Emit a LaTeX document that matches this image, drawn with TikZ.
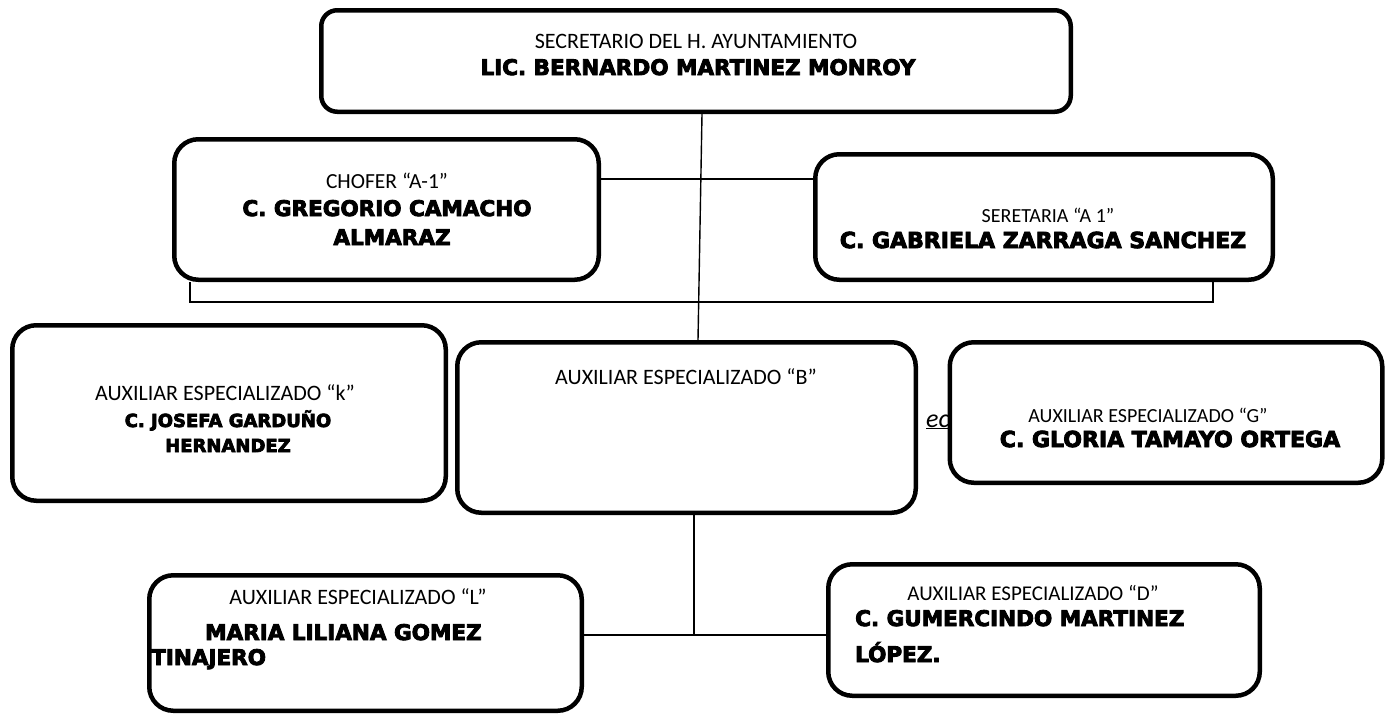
\documentclass[tikz,border=0pt]{standalone}
\usepackage{fontspec}
\setmainfont{Carlito}
\newfontfamily\heavyfont{DejaVu Sans}[BoldFeatures={FakeBold=4}]
\usetikzlibrary{backgrounds}
\tikzset{
  box/.style={draw, line width=4.5pt, rounded corners=24pt, fill=white, inner sep=0pt},
  conn/.style={draw, line width=1.4pt},
  reg/.style={inner sep=0pt, anchor=base, font=\fontsize{#1}{#1}\selectfont},
  reg/.default=20,
  hv/.style={inner sep=0pt, anchor=base, font=\heavyfont\bfseries\fontsize{#1}{#1}\selectfont},
  hv/.default=21.5,
}
\begin{document}
\begin{tikzpicture}[x=1pt,y=-1pt]
\useasboundingbox (0,0) rectangle (1387,716);
% boxes
\node[box, rounded corners=16pt, minimum width=749.5pt, minimum height=101.5pt] (T) at (696,61) {};
\node[box, minimum width=424.5pt, minimum height=140.5pt] (C) at (386.5,209.5) {};
\node[box, minimum width=457.5pt, minimum height=125.5pt] (S) at (1044,217) {};
\node[box, minimum width=433.5pt, minimum height=175.5pt] (K) at (229,413) {};
\node[box, minimum width=458.5pt, minimum height=170.5pt] (B) at (686.5,427.5) {};
\node[box, minimum width=432.5pt, minimum height=140.5pt] (G) at (1166,412.5) {};
\node[box, minimum width=432.5pt, minimum height=135.5pt] (L) at (365.5,643) {};
\node[box, minimum width=431.5pt, minimum height=131.5pt] (D) at (1044,630) {};
% connectors and hidden fragment
\begin{scope}[on background layer]
  \node[inner sep=0pt, anchor=base west, font=\fontsize{26}{26}\selectfont\itshape] (frag) at (926,427) {\underline{ec}};
  \coordinate (hl) at (0,179);
  \coordinate (bl) at (190,302);
  \coordinate (br) at (1213,302);
  \coordinate (bv) at (694,635);
  \draw[conn] ([xshift=6pt]T.south) -- ([xshift=11.5pt]B.north);
  \draw[conn] (C.east |- hl) -- (S.west |- hl);
  \draw[conn] (C.south -| bl) -- (bl) -- (br) -- (S.south -| br);
  \draw[conn] (B.south -| bv) -- (bv);
  \draw[conn] (L.east |- bv) -- (D.west |- bv);
\end{scope}
% texts
\node[reg=22] (t1) at (696,48) {SECRETARIO DEL H. AYUNTAMIENTO};
\node[hv=21.5] (t2) at (698,75) {LIC. BERNARDO MARTINEZ MONROY};
\node[reg=21.5] (c1) at (387,188) {CHOFER “A-1”};
\node[hv=21.5] (c2) at (387,216) {C. GREGORIO CAMACHO};
\node[hv=21.5] (c3) at (392,245) {ALMARAZ};
\node[reg=20] (s1) at (1048,222) {SERETARIA “A 1”};
\node[hv=22] (s2) at (1043,248) {C. GABRIELA ZARRAGA SANCHEZ};
\node[reg=22] (k1) at (225,400) {AUXILIAR ESPECIALIZADO “k”};
\node[hv=18] (k2) at (228,427) {C. JOSEFA GARDUÑO};
\node[hv=18] (k3) at (228,452) {HERNANDEZ};
\node[reg=22] (b1) at (686,384) {AUXILIAR ESPECIALIZADO “B”};
\node[reg=20] (g1) at (1148,422) {AUXILIAR ESPECIALIZADO “G”};
\node[hv=22] (g2) at (1170,447) {C. GLORIA TAMAYO ORTEGA};
\node[reg=22] (l1) at (358,604) {AUXILIAR ESPECIALIZADO “L”};
\node[hv=21.5, anchor=base west] (l2) at (205,640) {MARIA LILIANA GOMEZ};
\node[hv=21.5, anchor=base west] (l3) at (151,665) {TINAJERO};
\node[reg=21] (d1) at (1033,600) {AUXILIAR ESPECIALIZADO “D”};
\node[hv=21.5, anchor=base west] (d2) at (855,626) {C. GUMERCINDO MARTINEZ};
\node[hv=21.5, anchor=base west] (d3) at (855,662) {LÓPEZ.};
\end{tikzpicture}
\end{document}
